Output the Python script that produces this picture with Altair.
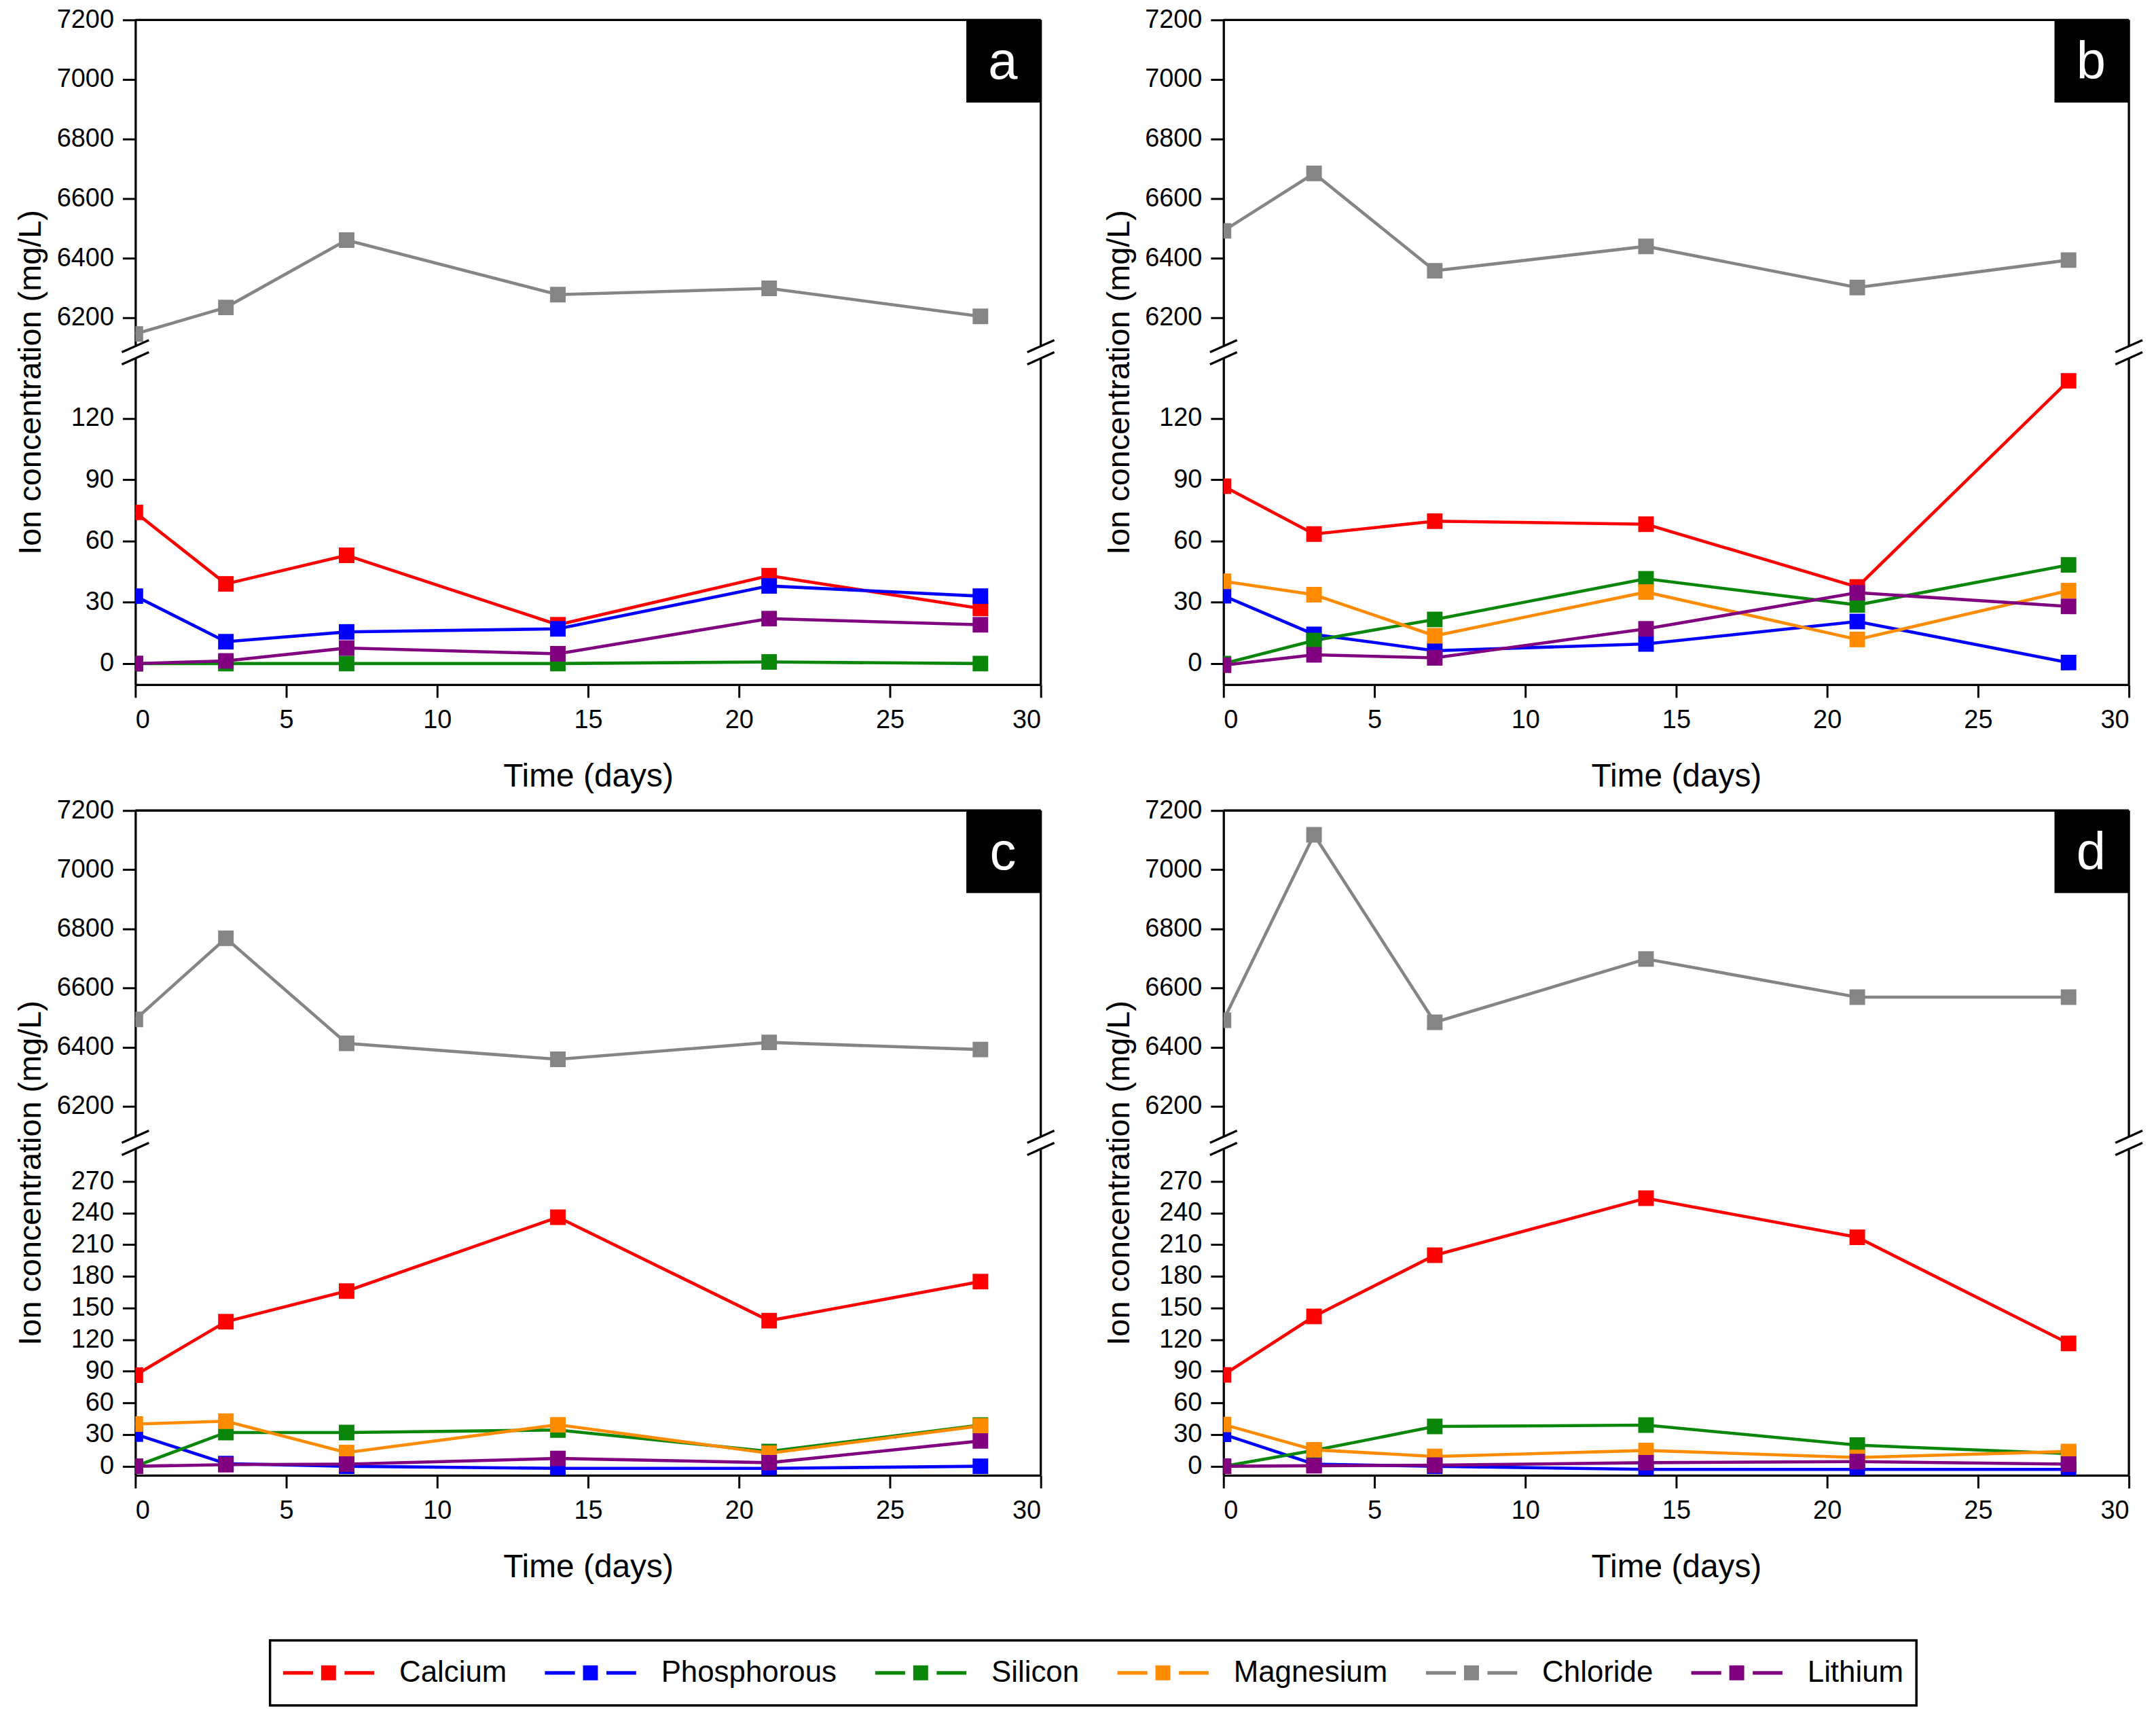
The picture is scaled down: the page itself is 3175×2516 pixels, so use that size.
import altair as alt
import pandas as pd

days = [0, 3, 7, 14, 21, 28]
ions = ["Calcium", "Phosphorous", "Silicon", "Magnesium", "Chloride", "Lithium"]
ion_colors = ["#ff0000", "#0000ff", "#0a870a", "#ff8c00", "#858585", "#800080"]

# Panel a
a_calcium = [74, 39, 53, 19, 43, 27]
a_phosphorous = [33, 10.7, 15.5, 17, 38, 33]
a_silicon = [0, 0, 0, 0, 0.8, 0]
a_chloride = [6146, 6235, 6461, 6278, 6299, 6205]
a_lithium = [0, 1.3, 7.6, 4.8, 22, 19]

# Panel b
b_calcium = [86.8, 63.4, 69.7, 68.2, 37.5, 138.4]
b_phosphorous = [33.2, 14.3, 6.3, 9.6, 20.6, 0.5]
b_silicon = [0, 11.3, 21.6, 41.5, 28.7, 48.3]
b_magnesium = [40.3, 33.7, 13.6, 35, 11.8, 35.7]
b_chloride = [6492, 6685, 6358, 6440, 6302, 6394]
b_lithium = [-0.8, 4.3, 2.8, 17, 34.7, 28]

# Panel c
c_calcium = [86.4, 137, 166, 236, 138, 175]
c_phosphorous = [30.4, 2.5, 0, -2, -2, 0]
c_silicon = [0, 32, 32, 34.4, 14, 39]
c_magnesium = [40, 42.7, 13, 39.3, 12.3, 38.3]
c_chloride = [6494, 6768, 6413, 6359, 6416, 6392]
c_lithium = [0, 1.5, 2, 7.4, 3.4, 24]

# Panel d
d_calcium = [86.6, 142, 200, 254, 217, 116.4]
d_phosphorous = [30.3, 2, 0, -3, -3, -3]
d_silicon = [0, 15, 37.7, 39, 20, 12]
d_magnesium = [39.6, 15.6, 9.3, 15, 8.3, 14]
d_chloride = [6491, 7118, 6484, 6698, 6569, 6569]
d_lithium = [0, 0.5, 1, 3.4, 4.4, 2]

panels = {
    "a": {"Calcium": a_calcium, "Phosphorous": a_phosphorous, "Silicon": a_silicon,
          "Chloride": a_chloride, "Lithium": a_lithium},
    "b": {"Calcium": b_calcium, "Phosphorous": b_phosphorous, "Silicon": b_silicon,
          "Magnesium": b_magnesium, "Chloride": b_chloride, "Lithium": b_lithium},
    "c": {"Calcium": c_calcium, "Phosphorous": c_phosphorous, "Silicon": c_silicon,
          "Magnesium": c_magnesium, "Chloride": c_chloride, "Lithium": c_lithium},
    "d": {"Calcium": d_calcium, "Phosphorous": d_phosphorous, "Silicon": d_silicon,
          "Magnesium": d_magnesium, "Chloride": d_chloride, "Lithium": d_lithium},
}

top_ticks = [6200, 6400, 6600, 6800, 7000, 7200]
bottom_ticks_ab = [0, 30, 60, 90, 120]
bottom_ticks_cd = [0, 30, 60, 90, 120, 150, 180, 210, 240, 270]
x_ticks = [0, 5, 10, 15, 20, 25, 30]

rows = []
for p, d in panels.items():
    for ion in ions:
        if ion in d:
            for day, v in zip(days, d[ion]):
                rows.append({"panel": p, "ion": ion, "day": day, "value": v})
df = pd.DataFrame(rows)
one = pd.DataFrame({"k": [0]})

W, HT, HB, GAP, SPACER = 1338, 482, 482, 18, 150
FONT = "Liberation Sans"
LW = 3.3

top_domain = {"a": [6105, 7200], "b": [6105, 7200], "c": [6097, 7200], "d": [6097, 7200]}
bottom_domain = {"a": [-10.3, 149.4], "b": [-10.3, 149.4], "c": [-8.5, 300.7], "d": [-8.5, 300.7]}
bottom_ticks = {"a": bottom_ticks_ab, "b": bottom_ticks_ab, "c": bottom_ticks_cd, "d": bottom_ticks_cd}

SYMBOL = "M-1,-0.04H-0.34V0.04H-1Z M-0.163,-0.163H0.163V0.163H-0.163Z M0.35,-0.04H1V0.04H0.35Z"
legend = alt.Legend(orient="none", legendX=199, legendY=2394, direction="horizontal",
                    columns=6, title=None, symbolType=SYMBOL, symbolSize=18225,
                    symbolStrokeWidth=0, clipHeight=58)
color_scale = alt.Scale(domain=ions, range=ion_colors)


def x_enc(axis):
    return alt.X("day:Q", scale=alt.Scale(domain=[0, 30], nice=False, zero=False), axis=axis)


def rule(x, x2, y, y2=None):
    enc = dict(x=alt.value(x), x2=alt.value(x2), y=alt.value(y))
    if y2 is not None:
        enc["y2"] = alt.value(y2)
    return alt.Chart(one).mark_rule(color="black", strokeWidth=LW).encode(**enc)


def vrule(x, y, y2):
    return alt.Chart(one).mark_rule(color="black", strokeWidth=LW).encode(
        x=alt.value(x), y=alt.value(y), y2=alt.value(y2))


def slash(x, y):
    return rule(x - 20, x + 20, y + 9, y - 9)


def series_layers(data, y, xaxis):
    layers = []
    for ion, col in zip(ions, ion_colors):
        sub = data[data.ion == ion]
        if len(sub) == 0:
            continue
        layers.append(alt.Chart(sub).mark_line(strokeWidth=4.6, clip=True, color=col).encode(
            x=x_enc(xaxis), y=y))
    pts = alt.Chart(data).mark_square(size=529, opacity=1, clip=True).encode(
        x=x_enc(xaxis), y=y,
        color=alt.Color("ion:N", scale=color_scale, legend=legend),
    )
    layers.append(pts)
    return layers


def top_chart(p):
    data = df[(df.panel == p) & (df.ion == "Chloride")]
    ysc = alt.Scale(domain=top_domain[p], nice=False, zero=False)
    yax = alt.Axis(values=top_ticks, format="d", title="Ion concentration (mg/L)", titleX=-130,
                   titleY=535, titleFontSize=47, labelPadding=13)
    y = alt.Y("value:Q", scale=ysc, axis=yax)
    layers = series_layers(data, y, None)
    deco = [
        rule(0, W, 0),
        vrule(W, 0, HT),
        slash(0, HT),
        slash(W, HT),
        alt.Chart(one).mark_rect(color="black").encode(
            x=alt.value(W - 110), x2=alt.value(W), y=alt.value(0), y2=alt.value(122)),
        alt.Chart(one).mark_text(text=p, font=FONT, fontSize=78, color="white",
                                 align="center", baseline="alphabetic").encode(
            x=alt.value(W - 56), y=alt.value(87)),
    ]
    return alt.layer(*layers, *deco).properties(width=W, height=HT)


def bottom_chart(p):
    data = df[(df.panel == p) & (df.ion != "Chloride")]
    ysc = alt.Scale(domain=bottom_domain[p], nice=False, zero=False)
    yax = alt.Axis(values=bottom_ticks[p], format="d", title=None, labelPadding=13)
    xax = alt.Axis(values=x_ticks, format="d", title="Time (days)", titleY=112, labelPadding=15,
                   titleFontSize=48)
    y = alt.Y("value:Q", scale=ysc, axis=yax)
    layers = series_layers(data, y, xax)
    deco = [
        vrule(W, 0, HB),
        slash(0, 0),
        slash(W, 0),
    ]
    return alt.layer(*layers, *deco).properties(width=W, height=HB)


def spacer():
    return alt.Chart(one).mark_point(opacity=0).encode(
        x=alt.value(0), y=alt.value(0)).properties(width=W, height=SPACER)


chart = alt.concat(
    top_chart("a"), top_chart("b"),
    bottom_chart("a"), bottom_chart("b"),
    spacer(), spacer(),
    top_chart("c"), top_chart("d"),
    bottom_chart("c"), bottom_chart("d"),
    columns=2, spacing={"row": GAP, "column": 270}, bounds="flush",
).resolve_scale(
    x="independent", y="independent", color="shared"
).properties(
    padding={"left": 14, "top": -2, "right": 10, "bottom": 5}, background="white"
).configure_view(
    stroke=None
).configure_axis(
    grid=False, domainColor="black", domainWidth=LW, tickColor="black", tickWidth=3,
    tickSize=19, labelFont=FONT, labelFontSize=38, labelColor="black",
    titleFont=FONT, titleFontWeight="normal", titleColor="black",
).configure_legend(
    labelFont=FONT, labelFontSize=44, labelColor="black", labelLimit=500,
    labelOffset=37, columnPadding=56,
    padding=19, strokeColor="black", strokeWidth=3.5,
)

chart.save("out.html", embed_options={"renderer": "svg", "actions": False})
